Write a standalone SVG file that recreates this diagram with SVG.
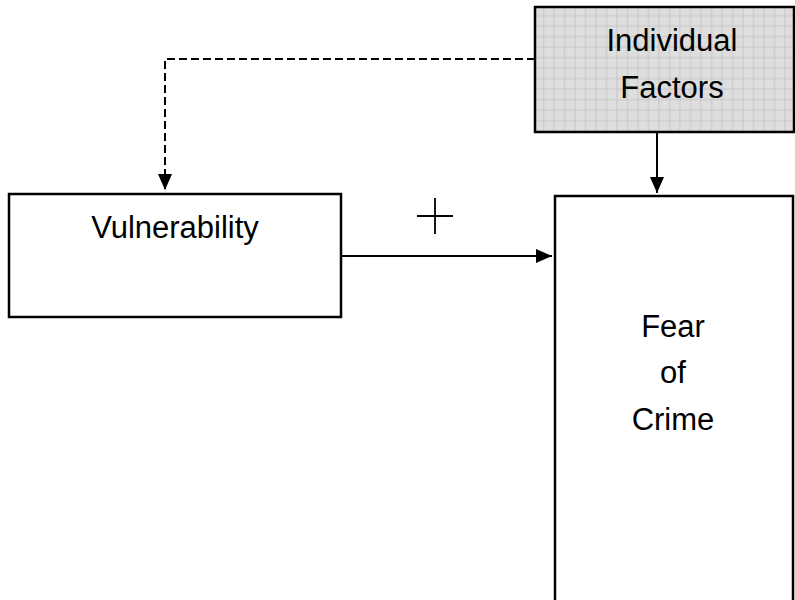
<svg xmlns="http://www.w3.org/2000/svg" width="795" height="600" viewBox="0 0 795 600">
  <defs>
    <pattern id="grid" x="535" y="7" width="10.5" height="10.5" patternUnits="userSpaceOnUse">
      <rect width="10.5" height="10.5" fill="#dedede"/>
      <path d="M 8.5 0 V 10.5 M 0 8.5 H 10.5" stroke="#c6c6c6" stroke-width="1" fill="none"/>
    </pattern>
    <marker id="arrow" viewBox="0 0 16 14" refX="16" refY="7" markerWidth="16" markerHeight="14" markerUnits="userSpaceOnUse" orient="auto">
      <path d="M 0 0 L 16 7 L 0 14 Z" fill="#000"/>
    </marker>
  </defs>
  <style>
    .box { fill: #fff; stroke: #000; stroke-width: 2.5; }
    .label { font-family: "Liberation Sans", Arial, sans-serif; font-size: 31px; fill: #000; text-anchor: middle; }
    .link { fill: none; stroke: #000; stroke-width: 2; }
    .dashed { stroke-dasharray: 8 4; }
  </style>
  <rect width="795" height="600" fill="#fff"/>

  <g id="connectors">
    <!-- Individual Factors -> Vulnerability (dashed) -->
    <path class="link dashed" d="M 535 59 H 165 V 190" marker-end="url(#arrow)"/>
    <!-- Individual Factors -> Fear of Crime -->
    <path class="link" d="M 657 132 V 193" marker-end="url(#arrow)"/>
    <!-- Vulnerability -> Fear of Crime -->
    <path class="link" d="M 341 256 H 552" marker-end="url(#arrow)"/>
    <!-- positive effect sign -->
    <path d="M 417 216 H 453 M 435 198 V 234" stroke="#000" stroke-width="1.8" fill="none"/>
  </g>

  <g id="individual-factors">
    <rect x="535" y="7" width="259" height="125" fill="url(#grid)" stroke="#000" stroke-width="2.5"/>
    <text class="label" x="672" y="51">Individual</text>
    <text class="label" x="672" y="98">Factors</text>
  </g>

  <g id="vulnerability">
    <rect class="box" x="9" y="194" width="332" height="123"/>
    <text class="label" x="175" y="238">Vulnerability</text>
  </g>

  <g id="fear-of-crime">
    <rect class="box" x="555" y="196" width="238" height="420"/>
    <text class="label" x="673" y="337">Fear</text>
    <text class="label" x="673" y="383">of</text>
    <text class="label" x="673" y="430">Crime</text>
  </g>
</svg>
